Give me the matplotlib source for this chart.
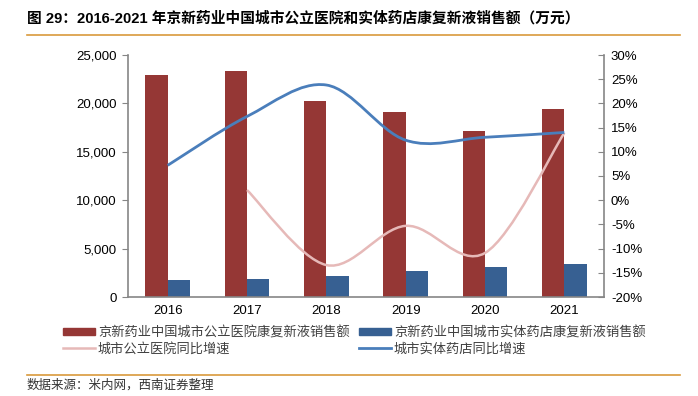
import numpy as np
import matplotlib
matplotlib.use("Agg")
import matplotlib.pyplot as plt
from matplotlib.path import Path
from matplotlib.patches import PathPatch, Rectangle
from matplotlib.lines import Line2D
from matplotlib.ticker import FuncFormatter

plt.rcParams['font.family'] = ['Liberation Sans', 'Noto Sans CJK SC', 'DejaVu Sans']

# data
years = ['2016', '2017', '2018', '2019', '2020', '2021']
hospital_sales = [22900, 23300, 20200, 19100, 17100, 19400]   # 万元
pharmacy_sales = [1750, 1850, 2170, 2690, 3100, 3440]         # 万元
hospital_growth = [None, 2.1, -13.4, -5.3, -10.9, 13.9]       # %
pharmacy_growth = [7.2, 17.3, 23.8, 12.4, 13.0, 14.0]         # %

label_hosp_bar = '京新药业中国城市公立医院康复新液销售额'
label_pharm_bar = '京新药业中国城市实体药店康复新液销售额'
label_hosp_line = '城市公立医院同比增速'
label_pharm_line = '城市实体药店同比增速'

RED = '#953735'
BLUE = '#376092'
LINE_BLUE = '#4A7EBB'
LINE_PINK = '#E6B9B8'
GRAY = '#868686'
ORANGE = '#D99A3C'
CJK = ['Noto Sans CJK SC', 'DejaVu Sans']


def smooth_path(xs, ys):
    """Excel style smoothed line: cubic bezier through the points"""
    pts = np.column_stack([xs, ys]).astype(float)
    n = len(pts)
    verts = [pts[0]]
    codes = [Path.MOVETO]
    for i in range(n - 1):
        p0 = pts[i - 1] if i > 0 else pts[i]
        p1 = pts[i]
        p2 = pts[i + 1]
        p3 = pts[i + 2] if i + 2 < n else pts[i + 1]
        c1 = p1 + (p2 - p0) / 6.0
        c2 = p2 - (p3 - p1) / 6.0
        verts += [c1, c2, p2]
        codes += [Path.CURVE4] * 3
    return Path(verts, codes)


fig = plt.figure(figsize=(6.98, 3.96), dpi=100)
ax = fig.add_axes([128 / 698, 1 - 297 / 396, 476 / 698, 242 / 396])
ax2 = ax.twinx()

x = np.arange(len(years))
w = 0.28
ax.bar(x - w / 2, hospital_sales, w, color=RED, zorder=2)
ax.bar(x + w / 2, pharmacy_sales, w, color=BLUE, zorder=2)

ax.set_xlim(-0.5, len(years) - 0.5)
ax.set_ylim(0, 25000)
ax.set_yticks(np.arange(0, 25001, 5000))
ax.yaxis.set_major_formatter(FuncFormatter(lambda v, p: f'{int(v):,}'))
ax.set_xticks(x)
ax.set_xticklabels(years)
ax.tick_params(axis='x', length=0, pad=6, labelsize=9.5)
ax.tick_params(axis='y', direction='out', length=4, color=GRAY, labelsize=9.5, pad=4)

ax2.set_ylim(-20, 30)
ax2.set_yticks(np.arange(-20, 31, 5))
ax2.yaxis.set_major_formatter(FuncFormatter(lambda v, p: f'{int(v)}%'))
ax2.tick_params(axis='y', direction='in', length=4, color=GRAY, labelsize=9.5, pad=5)

for a in (ax, ax2):
    a.spines['top'].set_visible(False)
    for s in ('left', 'right', 'bottom'):
        a.spines[s].set_color(GRAY)
        a.spines[s].set_linewidth(1.2)
ax.spines['right'].set_visible(False)
ax2.spines['left'].set_visible(False)
ax2.spines['bottom'].set_visible(False)

# smoothed growth lines
hx = [i for i, v in enumerate(hospital_growth) if v is not None]
hy = [v for v in hospital_growth if v is not None]
ax2.add_patch(PathPatch(smooth_path(hx, hy), fill=False, edgecolor=LINE_PINK,
                        lw=1.8, capstyle='butt', zorder=3))
ax2.add_patch(PathPatch(smooth_path(x, pharmacy_growth), fill=False, edgecolor=LINE_BLUE,
                        lw=2.0, capstyle='butt', zorder=4))

# legend
handles = [
    Rectangle((0, 0), 1, 1, color=RED),
    Line2D([], [], color=LINE_PINK, lw=1.8),
    Rectangle((0, 0), 1, 1, color=BLUE),
    Line2D([], [], color=LINE_BLUE, lw=2.0),
]
labels = [label_hosp_bar, label_hosp_line, label_pharm_bar, label_pharm_line]
leg = fig.legend(handles, labels, ncol=2, loc='upper left',
                 bbox_to_anchor=(63 / 698, 1 - 326 / 396), frameon=False,
                 prop={'family': CJK, 'size': 9.5}, handlelength=2.4, handleheight=0.45,
                 handletextpad=0.25, columnspacing=0.7, labelspacing=0.25,
                 borderpad=0, borderaxespad=0)
for t in leg.get_texts():
    t.set_color('#404040')

# title and source
fig.text(27 / 698, 1 - 18 / 396, '图 29：2016-2021 年京新药业中国城市公立医院和实体药店康复新液销售额（万元）',
         fontsize=10.6, fontweight='bold', va='center', ha='left',
         family=['Liberation Sans', 'Noto Sans CJK SC'])
fig.add_artist(Line2D([27 / 698, 680 / 698], [1 - 35 / 396, 1 - 35 / 396], color=ORANGE, lw=1.2))
fig.add_artist(Line2D([27 / 698, 680 / 698], [1 - 375 / 396, 1 - 375 / 396], color=ORANGE, lw=1.2))
fig.text(27 / 698, 1 - 385 / 396, '数据来源：米内网，西南证券整理', fontsize=9, color='#333333',
         va='center', ha='left', family=CJK, style='italic')

fig.savefig('out.png', dpi=100)
